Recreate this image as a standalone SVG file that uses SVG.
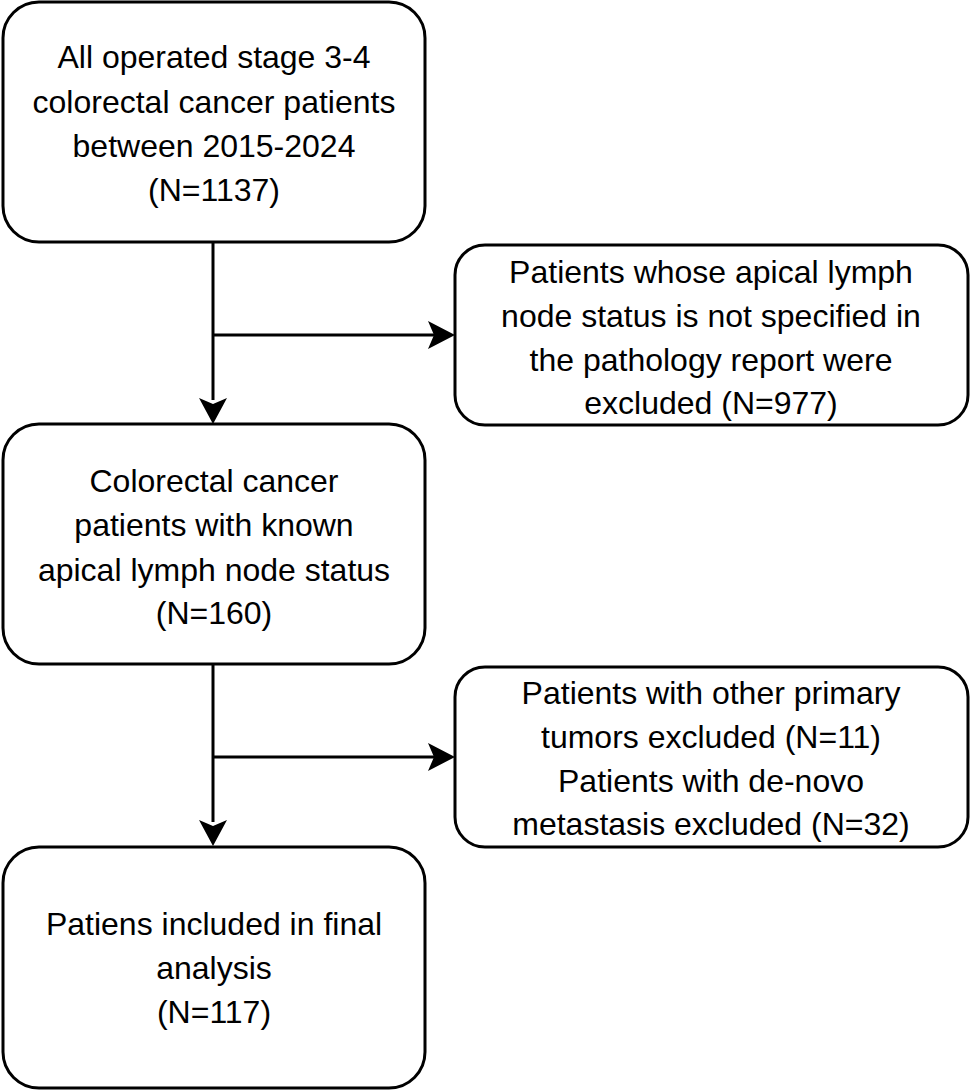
<svg xmlns="http://www.w3.org/2000/svg" width="970" height="1091" viewBox="0 0 970 1091">
<style>
.b{fill:#fff;stroke:#000;stroke-width:3}
text{font-family:"Liberation Sans",Arial,sans-serif;font-size:32px;text-anchor:middle;fill:#000}
.c{stroke:#000;stroke-width:3;fill:none}
</style>
<rect width="970" height="1091" fill="#fff"/>
<g id="connectors">
<path d="M213,243 V400" class="c"/><path d="M199,398 L213,424 L227,398 L213,404 Z"/>
<path d="M213,335 H440" class="c"/><path d="M428,321 L455,335 L428,349 L434,335 Z"/>
<path d="M213,664 V822" class="c"/><path d="M199,820 L213,846 L227,820 L213,826 Z"/>
<path d="M213,757 H440" class="c"/><path d="M428,743 L455,757 L428,771 L434,757 Z"/>
</g>
<g id="n1"><rect class="b" x="3" y="2" width="422" height="240" rx="36"/>
<text x="214" y="68">All operated stage 3-4</text><text x="214" y="113">colorectal cancer patients</text><text x="214" y="157">between 2015-2024</text><text x="214" y="201">(N=1137)</text></g>
<g id="n2"><rect class="b" x="455" y="245" width="513" height="180" rx="30"/>
<text x="711" y="283">Patients whose apical lymph</text><text x="711" y="327">node status is not specified in</text><text x="711" y="371">the pathology report were</text><text x="711" y="414">excluded (N=977)</text></g>
<g id="n3"><rect class="b" x="3" y="424" width="422" height="240" rx="36"/>
<text x="214" y="492">Colorectal cancer</text><text x="214" y="536">patients with known</text><text x="214" y="581">apical lymph node status</text><text x="214" y="624">(N=160)</text></g>
<g id="n4"><rect class="b" x="455" y="667" width="513" height="180" rx="30"/>
<text x="711" y="704">Patients with other primary</text><text x="711" y="748">tumors excluded (N=11)</text><text x="711" y="792">Patients with de-novo</text><text x="711" y="835">metastasis excluded (N=32)</text></g>
<g id="n5"><rect class="b" x="3" y="847" width="422" height="241" rx="36"/>
<text x="214" y="935">Patiens included in final</text><text x="214" y="979">analysis</text><text x="214" y="1023">(N=117)</text></g>
</svg>
